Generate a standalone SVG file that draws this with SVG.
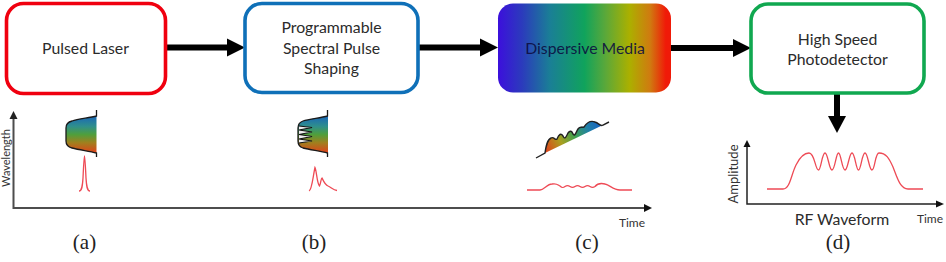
<svg xmlns="http://www.w3.org/2000/svg" width="946" height="262" viewBox="0 0 946 262">
  <style>
    .box { fill: #fff; stroke-width: 3.6; }
    .lbl { font-family: Lato, "Liberation Sans", sans-serif; font-size: 15.800px; fill: #2b2b2b; text-anchor: middle; }
    .small { font-family: Lato, "Liberation Sans", sans-serif; font-size: 12px; fill: #333; text-anchor: middle; }
    .cap { font-family: "Liberation Serif", serif; font-size: 21px; fill: #222; text-anchor: middle; }
    .flow { fill: none; stroke: #000; stroke-width: 6; }
    .axis { fill: none; stroke: #4d4d4d; stroke-width: 2; }
    .axis-thin { fill: none; stroke: #222; stroke-width: 1.5; }
    .edge { fill: none; stroke: #1a1a1a; stroke-width: 1.3; }
    .pulse { fill: none; stroke: #ee4a55; stroke-width: 1.300; }
  </style>
  <defs>
    <linearGradient id="rainbow" x1="0" y1="0" x2="1" y2="0">
      <stop offset="0" stop-color="#3c0fdc"/>
      <stop offset="0.14" stop-color="#2b3bbc"/>
      <stop offset="0.3" stop-color="#1a7f96"/>
      <stop offset="0.5" stop-color="#10a35c"/>
      <stop offset="0.62" stop-color="#5aa83a"/>
      <stop offset="0.76" stop-color="#abb000"/>
      <stop offset="0.88" stop-color="#d07a10"/>
      <stop offset="0.97" stop-color="#f01a08"/>
      <stop offset="1" stop-color="#f01a08"/>
    </linearGradient>
    <linearGradient id="band" x1="0" y1="0" x2="0" y2="1">
      <stop offset="0" stop-color="#1a66b8"/>
      <stop offset="0.28" stop-color="#2f8f8c"/>
      <stop offset="0.5" stop-color="#4f9f3c"/>
      <stop offset="0.72" stop-color="#a0801e"/>
      <stop offset="1" stop-color="#e0401a"/>
    </linearGradient>
    <linearGradient id="slant" gradientUnits="userSpaceOnUse" x1="545" y1="150" x2="598" y2="122">
      <stop offset="0" stop-color="#e0401a"/>
      <stop offset="0.3" stop-color="#a8a020"/>
      <stop offset="0.55" stop-color="#3fa050"/>
      <stop offset="0.8" stop-color="#2080a8"/>
      <stop offset="1" stop-color="#1a66c0"/>
    </linearGradient>
  </defs>

  <g id="connectors">
    <path class="flow" d="M165 47.500H229"/>
    <path d="M227 38.500L245 47.500L227 56.500Z"/>
    <path class="flow" d="M418 47.500H482"/>
    <path d="M480 38.500L498 47.500L480 56.500Z"/>
    <path class="flow" d="M671 48H735"/>
    <path d="M733 39L751 48L733 57Z"/>
    <path class="flow" d="M837 94V118"/>
    <path d="M828 116H846L837 133Z"/>
  </g>

  <g id="pulsed-laser">
    <rect class="box" x="6.500" y="3.500" width="159" height="90" rx="17" stroke="#f0000f"/>
    <text class="lbl" x="85.500" y="54">Pulsed Laser</text>
  </g>
  <g id="spectral-shaping">
    <rect class="box" x="245" y="3.500" width="173" height="89" rx="17" stroke="#0f70b8"/>
    <text class="lbl" x="331.500" y="33">Programmable</text>
    <text class="lbl" x="331.500" y="53.500">Spectral Pulse</text>
    <text class="lbl" x="331.500" y="74">Shaping</text>
  </g>
  <g id="dispersive-media">
    <rect x="498" y="3.500" width="173" height="89" rx="15" fill="url(#rainbow)"/>
    <text class="lbl" x="585" y="54" style="fill:#0c0c40;fill-opacity:.9">Dispersive Media</text>
  </g>
  <g id="photodetector">
    <rect class="box" x="751" y="4" width="173" height="89" rx="17" stroke="#10a850"/>
    <text class="lbl" x="837.500" y="45">High Speed</text>
    <text class="lbl" x="837.500" y="65">Photodetector</text>
  </g>

  <g id="time-axes">
    <path class="axis" d="M13.500 118V208H646"/>
    <path d="M13.500 111L9.500 119H17.500Z" fill="#222"/>
    <path d="M652 208L644 204V212Z" fill="#111"/>
    <text class="small" x="0" y="0" transform="translate(10 158) rotate(-90)" style="font-size:11px">Wavelength</text>
    <text class="small" x="632" y="227">Time</text>
  </g>

  <g id="stage-a">
    <path d="M96.500 116C88 118 78 119 72 121C68 122 66 124 66 128V141C66 145 68 147 72 148C80 150 88 151 96.500 153Z" fill="url(#band)"/>
    <path class="edge" d="M96.500 110V116C88 118 78 119 72 121C68 122 66 124 66 128V141C66 145 68 147 72 148C80 150 88 151 96.500 153V157"/>
    <path class="pulse" d="M79 191C82 191 82.500 186 83 178C83.500 168 84 156 84.500 156C85 156 85.500 168 86 178C86.500 186 87 191 90 191"/>
  </g>

  <g id="stage-b">
    <path d="M328 116C320 118 309 119 303 121C300 122 298 124 298 128V141C298 145 300 147 303 148C311 150 320 151 328 153Z" fill="url(#band)"/>
    <path d="M299 126L312 127.500L299 130L312 132L299 134.500L312 136.500L299 139L312 141L299 143V126Z" fill="#eee"/>
    <path fill="none" stroke="#111" stroke-width="1.200" d="M299 126L312 127.500L299 130L312 132L299 134.500L312 136.500L299 139L312 141L299 143"/>
    <path class="edge" d="M327.500 110V116C320 118 309 119 303 121C300 122 298 124 298 128V141C298 145 300 147 303 148C311 150 320 151 327.500 153V157"/>
    <path class="pulse" d="M309 191C312 190 313 176 315 167.500C316.500 170 317 184 319.500 186C321 183 321 178 322 178C323 180 325 185 328 186C331 187 333 190 337 190.500"/>
  </g>

  <g id="stage-c">
    <path d="M545 153C546 146 547 140 551 138C554 136 555 141 557 139C559 134 561 133 563 136C565 140 566 137 568 133C570 130 572 131 573 134C575 137 576 132 578 129C580 126 582 127 584 127C586 124 590 120 595 122C599 123 599 126 603 125Z" fill="url(#slant)"/>
    <path fill="none" stroke="#222" stroke-width="1.400" d="M536 158L545 153C546 146 547 140 551 138C554 136 555 141 557 139C559 134 561 133 563 136C565 140 566 137 568 133C570 130 572 131 573 134C575 137 576 132 578 129C580 126 582 128 584 127C586 124 590 120 595 122C599 123 600 127 603 125L609 122"/>
    <path class="pulse" d="M527 190H540C544 190 547 184 552 184C557 183 558 185 560 186C562 188 563 188 565 186.500C567 185 568 185 570 186.500C572 188 573 188 575 186.500C577 185 578 185 580 186.500C582 188 583 188 585 186.500C587 185 588 185 590 186.500C592 188 593 188 595 186.500C597 184 601 183 605 184C610 185 613 190 620 190H632"/>
  </g>

  <g id="stage-d">
    <path class="axis-thin" d="M747 144V204H940"/>
    <path d="M747 140L743.500 147H750.500Z" fill="#111"/>
    <path d="M944 204L936 200.500V207.500Z" fill="#111"/>
    <text class="small" x="0" y="0" transform="translate(738 174) rotate(-90)" style="font-size:13px">Amplitude</text>
    <path class="pulse" d="M767 189H783C790 189 791 175 796 165C800 157 804 153 809 153C815 153 815 170 818.500 170C821 170 822 153 825 153C828 153 829 170 832 170C835 170 836 153 838.500 153C841 153 842 170 845 170C848 170 849 153 852 153C855 153 856 170 858.500 170C861 170 862 153 865 153C868 153 869 170 872 170C875 170 875 153 879 153C886 153 889 158 893 167C897 177 900 189 908 189H923"/>
    <text class="lbl" x="842" y="225">RF Waveform</text>
    <text class="small" x="930" y="223">Time</text>
  </g>

  <g id="captions">
    <text class="cap" x="84.500" y="249">(a)</text>
    <text class="cap" x="314" y="249">(b)</text>
    <text class="cap" x="587" y="249">(c)</text>
    <text class="cap" x="838" y="249">(d)</text>
  </g>
</svg>
